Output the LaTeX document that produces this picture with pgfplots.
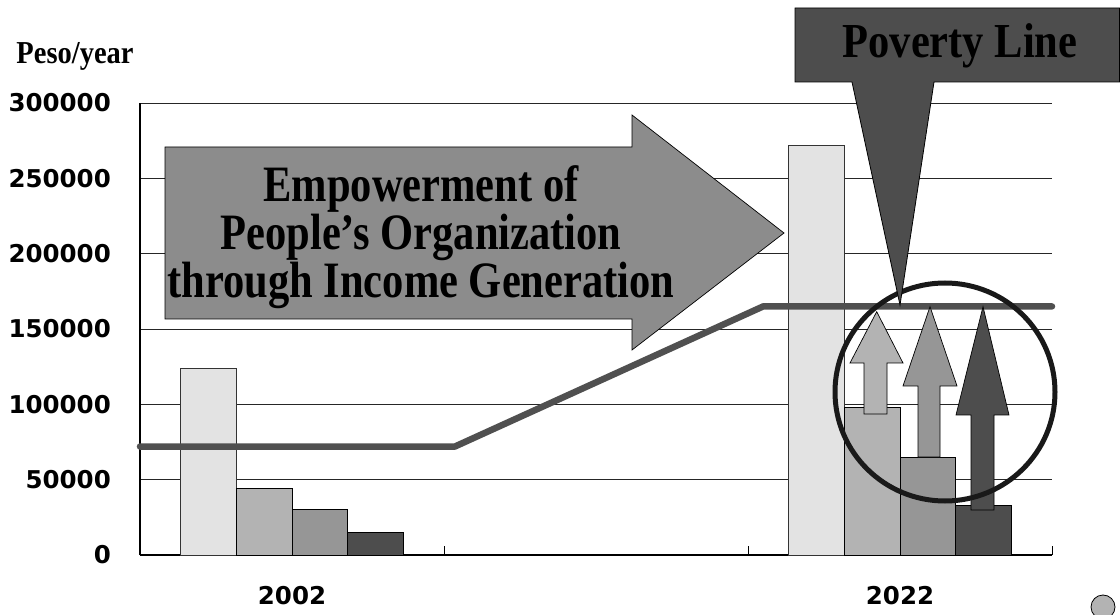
\documentclass[border=0pt]{standalone}
\usepackage{fontspec}
\setmainfont{Liberation Serif}
\newfontfamily\numfont{DejaVu Sans}
\usepackage{pgfplots}
\pgfplotsset{compat=1.18}
\definecolor{barA}{HTML}{E3E3E3}
\definecolor{barB}{HTML}{B3B3B3}
\definecolor{barC}{HTML}{969696}
\definecolor{barD}{HTML}{4D4D4D}
\definecolor{lineC}{HTML}{505050}
\definecolor{arrowC}{HTML}{8C8C8C}
\begin{document}
\begin{tikzpicture}
\path[use as bounding box] (0,0) rectangle (1120pt,614pt);
\begin{axis}[
  at={(140pt,59pt)}, anchor=south west,
  width=912pt, height=452pt, scale only axis,
  xmin=0, xmax=3, ymin=0, ymax=300000,
  axis x line*=bottom, axis y line*=left,
  axis line style={black, line width=1.2pt},
  clip=false,
  scaled y ticks=false,
  ytick={0,50000,100000,150000,200000,250000,300000},
  yticklabels={0,50000,100000,150000,200000,250000,300000},
  ytick style={draw=none},
  yticklabel style={font=\numfont\bfseries\fontsize{24.5}{24.5}\selectfont, inner sep=0pt, anchor=east},
  yticklabel shift=29pt,
  xtick={0.5,2.5},
  xticklabels={2002,2022},
  major x tick style={draw=none},
  minor xtick={1,2,3},
  minor tick length=9pt,
  minor x tick style={black, line width=1pt},
  xticklabel style={font=\numfont\bfseries\fontsize{24.5}{24.5}\selectfont, inner sep=0pt, anchor=north},
  xticklabel shift=31pt,
  ymajorgrids,
  major grid style={black!85, line width=1pt},
]
\addplot[ybar, bar width=0.183, bar shift=-0.2745, fill=barA, draw=black!80, line width=0.8pt] coordinates {(0.5,124000) (2.5,272000)};
\addplot[ybar, bar width=0.183, bar shift=-0.0915, fill=barB, draw=black, line width=0.8pt] coordinates {(0.5,44000) (2.5,98000)};
\addplot[ybar, bar width=0.183, bar shift=0.0915, fill=barC, draw=black, line width=0.8pt] coordinates {(0.5,30000) (2.5,65000)};
\addplot[ybar, bar width=0.183, bar shift=0.2745, fill=barD, draw=black, line width=0.8pt] coordinates {(0.5,15000) (2.5,33000)};
\addplot[lineC, line width=6.5pt, line cap=round, line join=round, mark=none] coordinates {(0,72000) (1.036,72000) (2.05,165000) (3,165000)};
\end{axis}
\begin{scope}[x=1pt, y=-1pt, yshift=614pt]
  % y-axis title
  \node[font=\bfseries\fontsize{28.5}{28.5}\selectfont, inner sep=0pt, yscale=1.12, transform shape] at (75,56) {Peso/year};
  % big arrow
  \draw[fill=arrowC, draw=black, line width=0.7pt] (165,147) -- (632,147) -- (632,115) -- (784,233) -- (632,350) -- (632,319) -- (165,319) -- cycle;
  \node[font=\bfseries\fontsize{42.5}{40}\selectfont, align=center, inner sep=0pt, yscale=1.2, transform shape] at (421,237) {Empowerment of\\People’s Organization\\through Income Generation};
  % up arrows
  \draw[fill=barB, draw=black, line width=0.7pt] (864,414) -- (864,363) -- (850,363) -- (876.7,311.7) -- (903,363) -- (887,363) -- (887,414) -- cycle;
  \draw[fill=barC, draw=black, line width=0.7pt] (918,457) -- (918,386) -- (903,386) -- (930,306.7) -- (957,386) -- (940,386) -- (940,457) -- cycle;
  \draw[fill=barD, draw=black, line width=0.7pt] (971,510) -- (971,415) -- (956,415) -- (983,306.7) -- (1009,415) -- (994,415) -- (994,510) -- cycle;
  % circle
  \draw[black!90, line width=5pt] (945,392) ellipse [x radius=110, y radius=109];
  % callout
  \draw[fill=barD, draw=black, line width=0.8pt] (795,8) -- (1119.5,8) -- (1119.5,82) -- (934,82) -- (900,305) -- (852,82) -- (795,82) -- cycle;
  \node[font=\bfseries\fontsize{42.5}{42.5}\selectfont, inner sep=0pt, yscale=1.15, transform shape] at (960,46) {Poverty Line};
  % small icon bottom right
  \draw[fill=barB, draw=black, line width=0.8pt] (1103,607) circle [radius=12];
\end{scope}
\end{tikzpicture}
\end{document}
